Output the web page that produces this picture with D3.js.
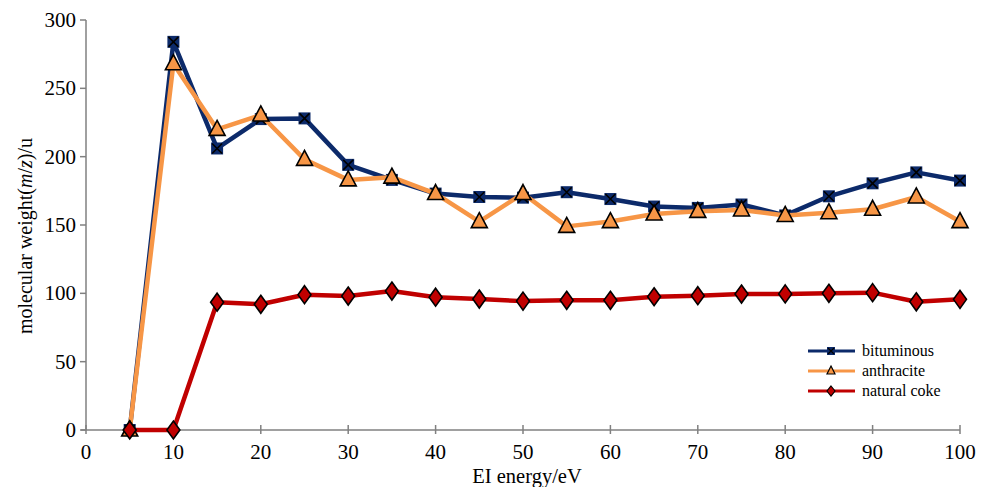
<!DOCTYPE html>
<html>
<head>
    <title>EI energy chart</title>
    <script src="https://d3js.org/d3.v7.min.js"></script>
    <style>
        body { margin: 0; background: #fff; }
    </style>
</head>
<body>
    <div id="chart"></div>
    <script>
        // Data
        const energy = [5, 10, 15, 20, 25, 30, 35, 40, 45, 50, 55, 60, 65, 70, 75, 80, 85, 90, 95, 100];
        const bituminous = [0, 284, 206, 227.5, 228, 194, 183, 173, 170.5, 170, 174, 169, 163.5, 162.5, 165, 157, 171, 180.5, 188.5, 182.5];
        const anthracite = [0, 268, 220, 230.5, 198, 183, 185, 173, 152.5, 173, 149, 152.5, 158, 160, 161, 157, 159, 161.5, 170.5, 152.5];
        const naturalCoke = [0, 0, 93.5, 92, 99, 98, 101.7, 97.2, 95.8, 94.3, 94.9, 94.9, 97.5, 98.3, 99.5, 99.6, 100, 100.5, 93.8, 95.6];
        const xTicks = [0, 10, 20, 30, 40, 50, 60, 70, 80, 90, 100];
        const yTicks = [0, 50, 100, 150, 200, 250, 300];

        const series = [
            { name: 'bituminous', values: bituminous, color: '#0c2a6a', marker: 'xsquare' },
            { name: 'anthracite', values: anthracite, color: '#f79646', marker: 'triangle' },
            { name: 'natural coke', values: naturalCoke, color: '#c00000', marker: 'diamond' }
        ];

        const font = 'Liberation Serif';
        const width = 981, height = 487;
        const svg = d3.select('#chart').append('svg')
                      .attr('width', width)
                      .attr('height', height);

        const xScale = d3.scaleLinear().domain([0, 100]).range([86, 960]);
        const yScale = d3.scaleLinear().domain([0, 300]).range([430, 20]);

        // Axes
        const axisColor = '#808080';
        svg.append('line')
           .attr('x1', xScale(0)).attr('x2', xScale(0))
           .attr('y1', yScale(0)).attr('y2', yScale(300))
           .attr('stroke', axisColor).attr('stroke-width', 1.5);
        svg.append('line')
           .attr('x1', xScale(0) - 5).attr('x2', xScale(100))
           .attr('y1', yScale(0)).attr('y2', yScale(0))
           .attr('stroke', axisColor).attr('stroke-width', 1.5);

        yTicks.forEach((t) => {
            svg.append('line')
               .attr('x1', xScale(0) - 6).attr('x2', xScale(0))
               .attr('y1', yScale(t)).attr('y2', yScale(t))
               .attr('stroke', axisColor).attr('stroke-width', 1.5);
            svg.append('text')
               .attr('x', xScale(0) - 10)
               .attr('y', yScale(t) + 7)
               .attr('text-anchor', 'end')
               .attr('font-family', font)
               .attr('font-size', 21)
               .text(t);
        });

        xTicks.forEach((t) => {
            svg.append('line')
               .attr('x1', xScale(t)).attr('x2', xScale(t))
               .attr('y1', yScale(0) - 5).attr('y2', yScale(0) + 4)
               .attr('stroke', axisColor).attr('stroke-width', 1.5);
            svg.append('text')
               .attr('x', xScale(t))
               .attr('y', 459)
               .attr('text-anchor', 'middle')
               .attr('font-family', font)
               .attr('font-size', 21)
               .text(t);
        });

        // Axis titles
        svg.append('text')
           .attr('x', 527)
           .attr('y', 483)
           .attr('text-anchor', 'middle')
           .attr('font-family', font)
           .attr('font-size', 20.5)
           .text('EI energy/eV');

        const yTitle = svg.append('text')
           .attr('transform', 'translate(32,' + 236 + ') rotate(-90)')
           .attr('text-anchor', 'middle')
           .attr('font-family', font)
           .attr('font-size', 20);
        yTitle.append('tspan').text('molecular weight(');
        yTitle.append('tspan').attr('font-style', 'italic').text('m');
        yTitle.append('tspan').text('/');
        yTitle.append('tspan').attr('font-style', 'italic').text('z');
        yTitle.append('tspan').text(')/u');

        // Marker drawing
        function drawMarker(g, type, x, y, color) {
            if (type === 'xsquare') {
                g.append('rect')
                 .attr('x', x - 6).attr('y', y - 6)
                 .attr('width', 12).attr('height', 12)
                 .attr('fill', color);
                g.append('path')
                 .attr('d', `M${x - 5},${y - 5}L${x + 5},${y + 5}M${x - 5},${y + 5}L${x + 5},${y - 5}`)
                 .attr('stroke', '#000').attr('stroke-width', 1.6);
            } else if (type === 'triangle') {
                g.append('path')
                 .attr('d', `M${x},${y - 9}L${x + 8},${y + 6}L${x - 8},${y + 6}Z`)
                 .attr('fill', color)
                 .attr('stroke', '#000').attr('stroke-width', 1.6)
                 .attr('stroke-linejoin', 'miter');
            } else {
                g.append('path')
                 .attr('d', `M${x},${y - 9}L${x + 6.5},${y}L${x},${y + 9}L${x - 6.5},${y}Z`)
                 .attr('fill', color)
                 .attr('stroke', '#000').attr('stroke-width', 1.6);
            }
        }

        const line = d3.line()
                       .x((d) => xScale(d[0]))
                       .y((d) => yScale(d[1]));

        series.forEach((s) => {
            const g = svg.append('g');
            const pts = energy.map((e, i) => [e, s.values[i]]);
            g.append('path')
             .attr('d', line(pts))
             .attr('fill', 'none')
             .attr('stroke', s.color)
             .attr('stroke-width', 4.5)
             .attr('stroke-linejoin', 'round');
            pts.forEach((p) => {
                drawMarker(g, s.marker, xScale(p[0]), yScale(p[1]), s.color);
            });
        });

        // Legend
        const legendY = [351, 371, 391];
        series.forEach((s, i) => {
            const g = svg.append('g');
            g.append('line')
             .attr('x1', 808).attr('x2', 855)
             .attr('y1', legendY[i]).attr('y2', legendY[i])
             .attr('stroke', s.color).attr('stroke-width', 3);
            if (s.marker === 'xsquare') {
                g.append('rect')
                 .attr('x', 827).attr('y', legendY[i] - 4)
                 .attr('width', 8).attr('height', 8)
                 .attr('fill', s.color);
                g.append('path')
                 .attr('d', `M${828},${legendY[i] - 3}L${834},${legendY[i] + 3}M${828},${legendY[i] + 3}L${834},${legendY[i] - 3}`)
                 .attr('stroke', '#000').attr('stroke-width', 1.2);
            } else if (s.marker === 'triangle') {
                g.append('path')
                 .attr('d', `M${831},${legendY[i] - 5}L${835},${legendY[i] + 3}L${827},${legendY[i] + 3}Z`)
                 .attr('fill', s.color).attr('stroke', '#000').attr('stroke-width', 1.2);
            } else {
                g.append('path')
                 .attr('d', `M${831},${legendY[i] - 5}L${835},${legendY[i]}L${831},${legendY[i] + 5}L${827},${legendY[i]}Z`)
                 .attr('fill', s.color).attr('stroke', '#000').attr('stroke-width', 1.2);
            }
            g.append('text')
             .attr('x', 862)
             .attr('y', legendY[i] + 5)
             .attr('font-family', font)
             .attr('font-size', 16)
             .text(s.name);
        });
    </script>
</body>
</html>
